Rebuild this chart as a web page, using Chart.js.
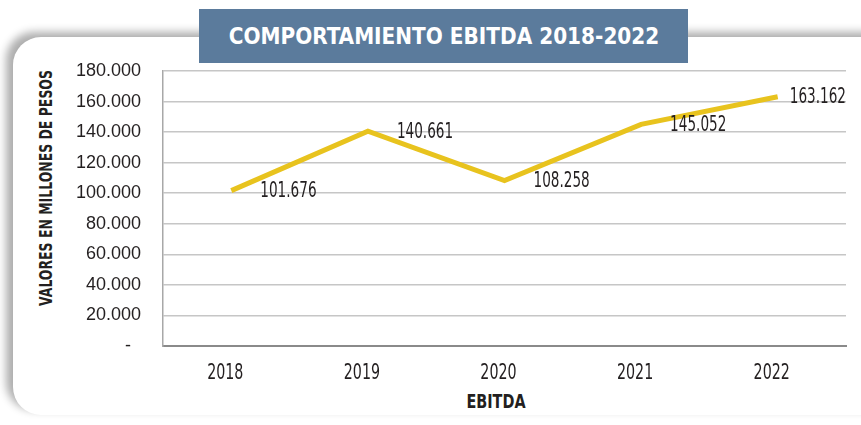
<!DOCTYPE html>
<html>
<head>
<meta charset="utf-8">
<script src="https://cdn.jsdelivr.net/npm/chart.js@4.4.1/dist/chart.umd.min.js"></script>
<style>
  body { margin: 0; background: #fff; overflow: hidden; }
  #panel {
    position: absolute; left: 13px; top: 37px; width: 900px; height: 378px;
    background: #fff; border-radius: 28px;
    box-shadow: -7px -5px 9px rgba(0, 0, 0, 0.32);
  }
  #banner {
    position: absolute; left: 199px; top: 9px; width: 489px; height: 54px;
    background: #5b7b9c; color: #fff;
    font: bold 23px "DejaVu Sans Condensed", sans-serif;
    line-height: 54px; text-align: center;
  }
  #banner span { display: inline-block; transform: scaleX(0.97); }
  .axis-title {
    position: absolute; white-space: nowrap; color: #231f20;
    font: bold 18px "DejaVu Sans Condensed", sans-serif;
  }
  #ytitle { left: 45px; top: 188px; transform: translate(-50%, -50%) rotate(-90deg) scaleX(0.77); }
  #xtitle { left: 496px; top: 401px; font-size: 20px; transform: translate(-50%, -50%) scaleX(0.8); }
  canvas { position: absolute; left: 0; top: 0; }
</style>
</head>
<body>
<div id="panel"></div>
<div id="banner"><span>COMPORTAMIENTO EBITDA 2018-2022</span></div>
<div id="ytitle" class="axis-title">VALORES EN MILLONES DE PESOS</div>
<div id="xtitle" class="axis-title">EBITDA</div>
<canvas id="chart" width="861" height="425"></canvas>
<script>
const years = ['2018', '2019', '2020', '2021', '2022'];
const ebitda = [101676, 140661, 108258, 145052, 163162];
const yMax = 180000;
const yStep = 20000;

const narrow = '"DejaVu Sans Condensed", sans-serif';
const squeeze = 0.72;

// 163162 -> "163.162", zero shown as a dash
function formatMiles(v)
{
    if (v === 0) return '-  ';
    return String(v).replace(/\B(?=(\d{3})+(?!\d))/g, '.');
}

function drawSqueezed(ctx, text, x, y, align)
{
    ctx.save();
    ctx.translate(x, y);
    ctx.scale(squeeze, 1);
    ctx.textAlign = align;
    ctx.fillText(text, 0, 0);
    ctx.restore();
}

// category labels and value labels in a narrow face, like the original
const condensedText = {
    id: 'condensedText',
    afterDatasetsDraw(chart) {
        const ctx = chart.ctx;
        const xScale = chart.scales.x;
        const meta = chart.getDatasetMeta(0);
        ctx.save();
        ctx.fillStyle = '#231f20';
        ctx.textBaseline = 'middle';

        ctx.font = '22px ' + narrow;
        years.forEach((label, i) => {
            drawSqueezed(ctx, label, xScale.getPixelForTick(i) - 6, 373, 'center');
        });

        ctx.font = '21px ' + narrow;
        meta.data.forEach((pt, i) => {
            const text = formatMiles(ebitda[i]);
            const w = ctx.measureText(text).width * squeeze;
            const x = Math.min(pt.x + 29, chart.chartArea.right - w);
            drawSqueezed(ctx, text, x, pt.y + 1, 'left');
        });
        ctx.restore();
    }
};

new Chart(document.getElementById('chart'), {
    type: 'line',
    data: {
        labels: years,
        datasets: [{
            data: ebitda,
            borderColor: '#e8c31e',
            borderWidth: 5,
            pointRadius: 0,
            tension: 0,
            fill: false
        }]
    },
    options: {
        responsive: false,
        animation: false,
        events: [],
        layout: { padding: { top: 71, right: 15, bottom: 0, left: 0 } },
        plugins: {
            legend: { display: false },
            tooltip: { enabled: false }
        },
        scales: {
            x: {
                offset: true,
                grid: { display: false, drawTicks: false },
                border: { display: true, color: '#8a8a8a', width: 2 },
                ticks: { display: false },
                afterFit(scale) { scale.height = 79; }
            },
            y: {
                min: 0,
                max: yMax,
                grid: {
                    drawTicks: false,
                    color: (c) => c.tick && c.tick.value === 0 ? '#8a8a8a' : '#c6c6c6',
                    lineWidth: (c) => c.tick && c.tick.value === 0 ? 2 : 1.5
                },
                border: { display: true, color: '#a8a8a8', width: 1.5 },
                ticks: {
                    stepSize: yStep,
                    padding: 22,
                    color: '#231f20',
                    font: { family: '"Liberation Sans", Arial, sans-serif', size: 18 },
                    callback: (v) => formatMiles(v)
                },
                afterFit(scale) { scale.width = 163; }
            }
        }
    },
    plugins: [condensedText]
});
</script>
</body>
</html>
